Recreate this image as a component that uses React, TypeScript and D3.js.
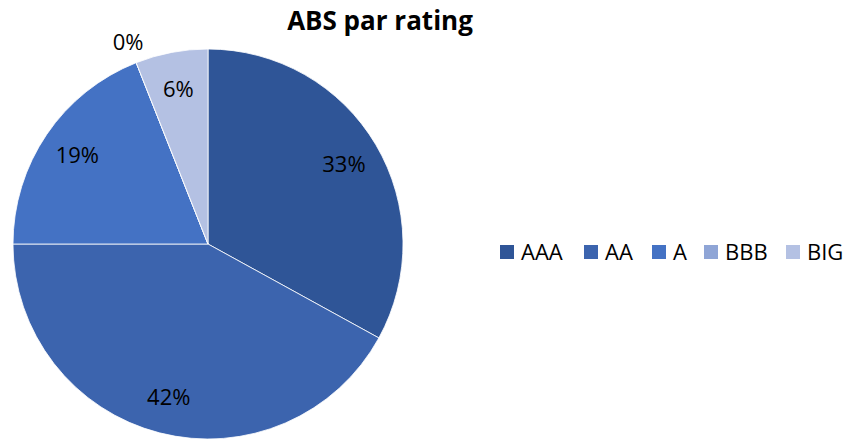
import React, { useRef, useEffect } from "react";
import * as d3 from "d3";

const categories = ["AAA", "AA", "A", "BBB", "BIG"];
const values = [33, 42, 19, 0, 6];
const colors = ["#2F5597", "#3C64AE", "#4472C4", "#8FA5D6", "#B4C1E3"];
const titleText = "ABS par rating";

const FONT = "'Open Sans', sans-serif";

function App() {
  const ref = useRef<SVGSVGElement>(null);

  useEffect(() => {
    const svg = d3.select(ref.current);
    svg.selectAll("*").remove();

    const width = 848;
    const height = 439;
    const cx = 208;
    const cy = 244;
    const radius = 195;

    svg.append("rect").attr("width", width).attr("height", height).attr("fill", "#fff");

    const data = categories.map((c, i) => ({ cat: c, value: values[i], color: colors[i] }));

    const pie = d3
      .pie<any>()
      .value((d) => d.value)
      .sort(null);
    const arcs = pie(data);
    const arc = d3.arc<any>().innerRadius(0).outerRadius(radius);
    const labelArc = d3.arc<any>().innerRadius(radius * 0.81).outerRadius(radius * 0.81);
    const outArc = d3.arc<any>().innerRadius(radius + 22).outerRadius(radius + 22);

    const g = svg.append("g").attr("transform", `translate(${cx},${cy})`);

    g.selectAll("path")
      .data(arcs)
      .enter()
      .append("path")
      .attr("d", arc)
      .attr("fill", (d) => d.data.color)
      .attr("stroke", "#fff")
      .attr("stroke-width", 0.8);

    g.selectAll("text.lbl")
      .data(arcs)
      .enter()
      .append("text")
      .attr("class", "lbl")
      .attr("transform", (d) => {
        const p = d.data.value === 0 ? outArc.centroid(d) : labelArc.centroid(d);
        return `translate(${p[0]},${p[1]})`;
      })
      .attr("text-anchor", "middle")
      .attr("dy", "0.36em")
      .style("font-family", FONT)
      .style("font-size", "22px")
      .attr("fill", "#000")
      .text((d) => `${d.data.value}%`);

    svg
      .append("text")
      .attr("x", 380)
      .attr("y", 30)
      .attr("text-anchor", "middle")
      .style("font-family", FONT)
      .style("font-size", "26px")
      .style("font-weight", "bold")
      .text(titleText);

    // legend
    const legendX = d3
      .scaleOrdinal<string, number>()
      .domain(categories)
      .range([500, 584, 652, 704, 786]);

    const lg = svg
      .selectAll("g.legend")
      .data(data)
      .enter()
      .append("g")
      .attr("class", "legend")
      .attr("transform", (d) => `translate(${legendX(d.cat)},245)`);

    lg.append("rect").attr("width", 14).attr("height", 14).attr("fill", (d) => d.color);
    lg.append("text")
      .attr("x", 21)
      .attr("y", 7)
      .attr("dy", "0.36em")
      .style("font-family", FONT)
      .style("font-size", "22px")
      .text((d) => d.cat);
  }, []);

  return (
    <svg
      ref={ref}
      width={848}
      height={439}
      style={{ position: "absolute", left: 0, top: 0, display: "block" }}
    ></svg>
  );
}

export default App;
